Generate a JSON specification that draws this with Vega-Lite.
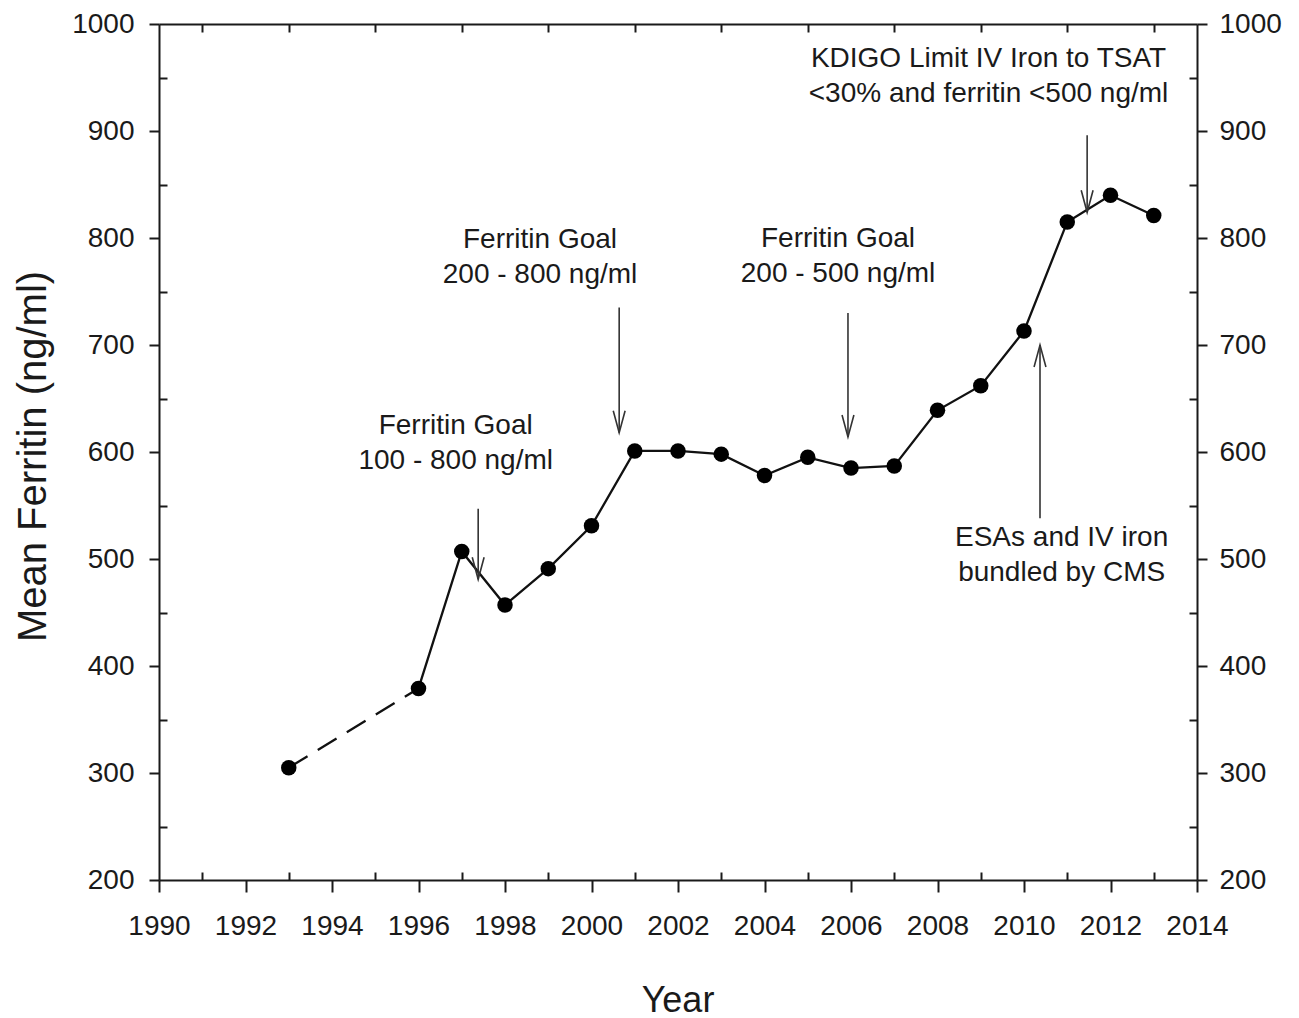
{
  "$schema": "https://vega.github.io/schema/vega-lite/v6.json",
  "autosize": {"type": "none"},
  "width": 1038,
  "height": 856,
  "padding": {"left": 159, "top": 24, "right": 102, "bottom": 138},
  "background": "white",
  "config": {
    "view": {"stroke": null},
    "axis": {
      "labelFont": "Liberation Sans",
      "titleFont": "Liberation Sans",
      "labelColor": "#1a1a1a",
      "titleColor": "#1a1a1a",
      "titleFontWeight": "normal",
      "domainColor": "#1a1a1a",
      "tickColor": "#1a1a1a",
      "domainWidth": 2,
      "tickWidth": 2,
      "grid": false,
      "labelOverlap": false,
      "labelFlush": false,
      "labelFontSize": 28
    },
    "text": {"font": "Liberation Sans"}
  },
  "datasets": {
    "pts": [
      {"year": 1993, "ferritin": 305},
      {"year": 1996, "ferritin": 379},
      {"year": 1997, "ferritin": 507},
      {"year": 1998, "ferritin": 457},
      {"year": 1999, "ferritin": 491},
      {"year": 2000, "ferritin": 531},
      {"year": 2001, "ferritin": 601},
      {"year": 2002, "ferritin": 601},
      {"year": 2003, "ferritin": 598},
      {"year": 2004, "ferritin": 578},
      {"year": 2005, "ferritin": 595},
      {"year": 2006, "ferritin": 585},
      {"year": 2007, "ferritin": 587},
      {"year": 2008, "ferritin": 639},
      {"year": 2009, "ferritin": 662},
      {"year": 2010, "ferritin": 713},
      {"year": 2011, "ferritin": 815},
      {"year": 2012, "ferritin": 840},
      {"year": 2013, "ferritin": 821}
    ],
    "notes": [
      {"year": 1996.86, "ferritin": 624, "label": ["Ferritin Goal", "100 - 800 ng/ml"]},
      {"year": 1998.81, "ferritin": 798, "label": ["Ferritin Goal", "200 - 800 ng/ml"]},
      {"year": 2005.7, "ferritin": 799, "label": ["Ferritin Goal", "200 - 500 ng/ml"]},
      {"year": 2009.18, "ferritin": 967, "label": ["KDIGO Limit IV Iron to TSAT", "<30% and ferritin <500 ng/ml"]},
      {"year": 2010.87, "ferritin": 520, "label": ["ESAs and IV iron", "bundled by CMS"]}
    ],
    "arrows": [
      {"year": 1997.38, "tail": 547, "tip": 481, "dir": "down"},
      {"year": 2000.64, "tail": 735, "tip": 618, "dir": "down"},
      {"year": 2005.93, "tail": 730, "tip": 614, "dir": "down"},
      {"year": 2011.46, "tail": 896, "tip": 824, "dir": "down"},
      {"year": 2010.37, "tail": 538, "tip": 700, "dir": "up"}
    ]
  },
  "resolve": {"axis": {"x": "independent", "y": "independent"}},
  "layer": [
    {
      "data": {"name": "pts"},
      "transform": [{"filter": "datum.year >= 1996"}],
      "mark": {"type": "line", "color": "#111", "strokeWidth": 2.3},
      "encoding": {
        "x": {"field": "year", "type": "quantitative",
          "scale": {"domain": [1990, 2014], "nice": false, "zero": false},
          "axis": {"orient": "bottom", "values": [1990,1992,1994,1996,1998,2000,2002,2004,2006,2008,2010,2012,2014],
            "format": "d", "tickSize": 12, "labelPadding": 20, "title": "Year", "titleFontSize": 36,
            "titleX": 518.5, "titleY": 131, "titleBaseline": "alphabetic", "titleAlign": "center"}},
        "y": {"field": "ferritin", "type": "quantitative",
          "scale": {"domain": [200, 1000], "nice": false, "zero": false},
          "axis": {"orient": "left", "values": [200,300,400,500,600,700,800,900,1000], "format": "d",
            "tickSize": 10, "labelPadding": 15, "title": "Mean Ferritin (ng/ml)", "titleFontSize": 40,
            "titleX": -126, "titleY": 432, "titleAngle": -90, "titleBaseline": "middle", "titleAlign": "center"}}
      }
    },
    {
      "data": {"name": "pts"},
      "transform": [{"filter": "datum.year <= 1996"}],
      "mark": {"type": "line", "color": "#111", "strokeWidth": 2.3, "strokeDash": [22, 12]},
      "encoding": {
        "x": {"field": "year", "type": "quantitative",
          "axis": {"orient": "bottom", "values": [1991,1993,1995,1997,1999,2001,2003,2005,2007,2009,2011,2013],
            "tickSize": -8, "labels": false, "domain": false, "title": null}},
        "y": {"field": "ferritin", "type": "quantitative",
          "axis": {"orient": "left", "values": [250,350,450,550,650,750,850,950],
            "tickSize": -8, "labels": false, "domain": false, "title": null}}
      }
    },
    {
      "data": {"name": "pts"},
      "mark": {"type": "point", "filled": true, "color": "#000", "size": 240, "opacity": 1},
      "encoding": {
        "x": {"field": "year", "type": "quantitative",
          "axis": {"orient": "top", "values": [1991,1993,1995,1997,1999,2001,2003,2005,2007,2009,2011,2013],
            "tickSize": -8, "labels": false, "domain": true, "title": null}},
        "y": {"field": "ferritin", "type": "quantitative",
          "axis": {"orient": "right", "values": [200,300,400,500,600,700,800,900,1000], "format": "d",
            "tickSize": 10, "labelPadding": 12, "labelAlign": "left", "domain": true, "title": null}}
      }
    },
    {
      "data": {"name": "notes"},
      "mark": {"type": "text", "fontSize": 28, "lineHeight": 35, "align": "center", "baseline": "middle", "color": "#1a1a1a"},
      "encoding": {
        "x": {"field": "year", "type": "quantitative", "axis": null},
        "y": {"field": "ferritin", "type": "quantitative",
          "axis": {"orient": "right", "values": [250,350,450,550,650,750,850,950],
            "tickSize": -8, "labels": false, "domain": false, "title": null}},
        "text": {"field": "label"}
      }
    },
    {
      "data": {"name": "arrows"},
      "mark": {"type": "rule", "color": "#333", "strokeWidth": 1.6},
      "encoding": {
        "x": {"field": "year", "type": "quantitative", "axis": null},
        "y": {"field": "tail", "type": "quantitative", "axis": null},
        "y2": {"field": "tip"}
      }
    },
    {
      "data": {"name": "arrows"},
      "mark": {"type": "point", "filled": false, "color": "#333", "strokeWidth": 1.6, "size": 1936, "opacity": 1},
      "encoding": {
        "x": {"field": "year", "type": "quantitative", "axis": null},
        "y": {"field": "tip", "type": "quantitative", "axis": null},
        "shape": {"field": "dir", "type": "nominal", "legend": null,
          "scale": {"domain": ["down", "up"], "range": ["M -0.27 -1 L 0 0 L 0.27 -1", "M -0.27 1 L 0 0 L 0.27 1"]}}
      }
    }
  ]
}
